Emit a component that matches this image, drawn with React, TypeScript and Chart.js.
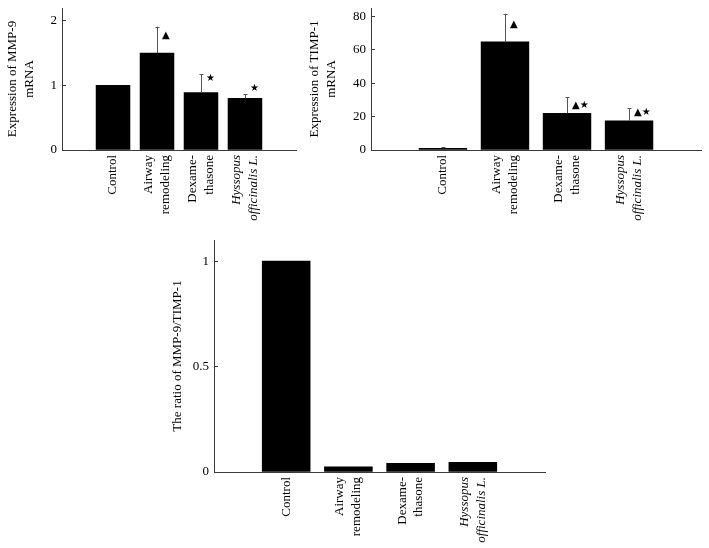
import React, { useEffect, useRef } from 'react';
import { Chart, registerables } from 'chart.js';

Chart.register(...registerables);

const categories: (string | string[])[] = [
  'Control',
  ['Airway', 'remodeling'],
  ['Dexame-', 'thasone'],
  ['Hyssopus', 'officinalis L.'],
];

const mmp9Values = [1.0, 1.5, 0.89, 0.8];
const mmp9Errors = [0, 0.41, 0.28, 0.06];
const mmp9Marks = ['', '▲', '★', '★'];
const mmp9MarkLevels = [0, 1.77, 1.11, 0.95];
const mmp9Ticks = { max: 2.2, step: 1 };

const timp1Values = [1, 64.7, 21.9, 17.5];
const timp1Errors = [0.8, 16.9, 9.6, 7.4];
const timp1Marks = ['', '▲', '▲★', '▲★'];
const timp1MarkLevels = [0, 75, 26.4, 22.7];
const timp1Ticks = { max: 85, step: 20 };

const ratioValues = [1.0, 0.025, 0.041, 0.046];
const ratioErrors = [0, 0, 0, 0];
const ratioMarks = ['', '', '', ''];
const ratioMarkLevels = [0, 0, 0, 0];
const ratioTicks = { max: 1.1, step: 0.5 };

const SERIF = "'Liberation Serif', 'Times New Roman', serif";
const AXIS_COLOR = '#3a3a3a';
const LABEL_SIZE = 13;
const LABEL_LH = 1.3;
const X_MIN = -0.16;
const X_MAX = 5.16;
const BAR_FRACTION = 0.77;

interface PanelProps {
  left: number;
  top: number;
  width: number;
  height: number;
  yAxisWidth: number;
  xAxisHeight: number;
  padTop: number;
  padRight: number;
  titlePad: number;
  title: string | string[];
  values: number[];
  errors: number[];
  marks: string[];
  markLevels: number[];
  yMax: number;
  yStep: number;
}

function BarPanel(p: PanelProps) {
  const ref = useRef<HTMLCanvasElement | null>(null);
  useEffect(() => {
    if (!ref.current) return;
    const areaWidth = p.width - p.yAxisWidth - p.padRight;
    const unitPx = areaWidth / (X_MAX - X_MIN);
    const errorPlugin = {
      id: 'errorsAndMarks',
      afterDatasetsDraw(chart: any) {
        const ctx = chart.ctx;
        const yScale = chart.scales.y;
        const meta = chart.getDatasetMeta(0);
        ctx.save();
        meta.data.forEach((bar: any, i: number) => {
          const err = p.errors[i];
          if (err > 0) {
            const y0 = yScale.getPixelForValue(p.values[i]);
            const y1 = yScale.getPixelForValue(p.values[i] + err);
            const x = Math.round(bar.x) + 0.5;
            ctx.strokeStyle = '#555';
            ctx.lineWidth = 1;
            ctx.beginPath();
            ctx.moveTo(x, y0);
            ctx.lineTo(x, y1);
            ctx.moveTo(x - 2, Math.round(y1) + 0.5);
            ctx.lineTo(x + 2, Math.round(y1) + 0.5);
            ctx.stroke();
          }
          const m = p.marks[i];
          if (m) {
            ctx.fillStyle = '#000';
            ctx.font = "10px 'DejaVu Sans', sans-serif";
            ctx.textAlign = 'left';
            ctx.textBaseline = 'middle';
            ctx.fillText(m, bar.x + 5, yScale.getPixelForValue(p.markLevels[i]));
          }
        });
        ctx.restore();
      },
    };
    const chart = new Chart(ref.current, {
      type: 'bar',
      data: {
        datasets: [
          {
            data: p.values.map((v, i) => ({ x: i + 1, y: v })),
            backgroundColor: '#000',
            borderWidth: 0,
            barThickness: unitPx * BAR_FRACTION,
          } as any,
        ],
      },
      options: {
        animation: false,
        responsive: false,
        layout: { padding: { top: p.padTop, right: p.padRight, left: 0, bottom: 0 } },
        plugins: { legend: { display: false }, tooltip: { enabled: false } },
        scales: {
          x: {
            type: 'linear',
            offset: false,
            min: X_MIN,
            max: X_MAX,
            afterBuildTicks: (s: any) => {
              const lh = LABEL_SIZE * LABEL_LH;
              s.ticks = categories.map((c, i) => {
                const n = Array.isArray(c) ? c.length : 1;
                return { value: i + 1 - ((n - 1) * lh) / 2 / unitPx };
              });
            },
            afterFit: (s: any) => {
              s.height = p.xAxisHeight;
              s.paddingLeft = 0;
              s.paddingRight = 0;
            },
            ticks: {
              autoSkip: false,
              minRotation: 90,
              maxRotation: 90,
              padding: 5,
              color: '#000',
              callback: (_v: any, idx: number) => categories[idx] ?? '',
              font: (c: any) => ({
                family: SERIF,
                size: LABEL_SIZE,
                lineHeight: LABEL_LH,
                style: c.index === 3 ? 'italic' : 'normal',
              }),
            },
            grid: { display: false, drawTicks: false },
            border: { display: true, color: AXIS_COLOR, width: 1 },
          },
          y: {
            min: 0,
            max: p.yMax,
            afterBuildTicks: (s: any) => {
              const t: any[] = [];
              for (let k = 0; k * p.yStep <= p.yMax + 1e-9; k++) {
                t.push({ value: Math.round(k * p.yStep * 1000) / 1000 });
              }
              s.ticks = t;
            },
            afterFit: (s: any) => {
              s.width = p.yAxisWidth;
              s.paddingTop = 0;
              s.paddingBottom = 0;
            },
            ticks: {
              padding: 9,
              color: '#000',
              font: { family: SERIF, size: 13 },
              callback: (v: any) => String(Math.round(Number(v) * 1000) / 1000),
            },
            grid: {
              drawOnChartArea: false,
              drawTicks: true,
              tickLength: -4,
              color: AXIS_COLOR,
            },
            border: { display: true, color: AXIS_COLOR, width: 1 },
            title: {
              display: true,
              text: p.title,
              color: '#000',
              font: { family: SERIF, size: 13, lineHeight: 1.3 },
              padding: { top: p.titlePad, bottom: 0 },
            },
          },
        },
      } as any,
      plugins: [errorPlugin],
    });
    return () => chart.destroy();
  }, []);
  return (
    <div style={{ position: 'absolute', left: p.left, top: p.top, width: p.width, height: p.height }}>
      <canvas ref={ref} width={p.width} height={p.height} style={{ display: 'block' }} />
    </div>
  );
}

export default function App() {
  return (
    <div style={{ position: 'absolute', left: 0, top: 0, width: 709, height: 548, background: '#fff' }}>
      <BarPanel
        left={0}
        top={0}
        width={310}
        height={230}
        yAxisWidth={62}
        xAxisHeight={80}
        padTop={8}
        padRight={14}
        titlePad={4.5}
        title={['Expression of MMP-9', 'mRNA']}
        values={mmp9Values}
        errors={mmp9Errors}
        marks={mmp9Marks}
        markLevels={mmp9MarkLevels}
        yMax={mmp9Ticks.max}
        yStep={mmp9Ticks.step}
      />
      <BarPanel
        left={300}
        top={0}
        width={409}
        height={230}
        yAxisWidth={71}
        xAxisHeight={80}
        padTop={8}
        padRight={8}
        titlePad={6.5}
        title={['Expression of TIMP-1', 'mRNA']}
        values={timp1Values}
        errors={timp1Errors}
        marks={timp1Marks}
        markLevels={timp1MarkLevels}
        yMax={timp1Ticks.max}
        yStep={timp1Ticks.step}
      />
      <BarPanel
        left={160}
        top={230}
        width={400}
        height={318}
        yAxisWidth={54}
        xAxisHeight={76}
        padTop={10}
        padRight={15}
        titlePad={9.5}
        title={'The ratio of MMP-9/TIMP-1'}
        values={ratioValues}
        errors={ratioErrors}
        marks={ratioMarks}
        markLevels={ratioMarkLevels}
        yMax={ratioTicks.max}
        yStep={ratioTicks.step}
      />
    </div>
  );
}
